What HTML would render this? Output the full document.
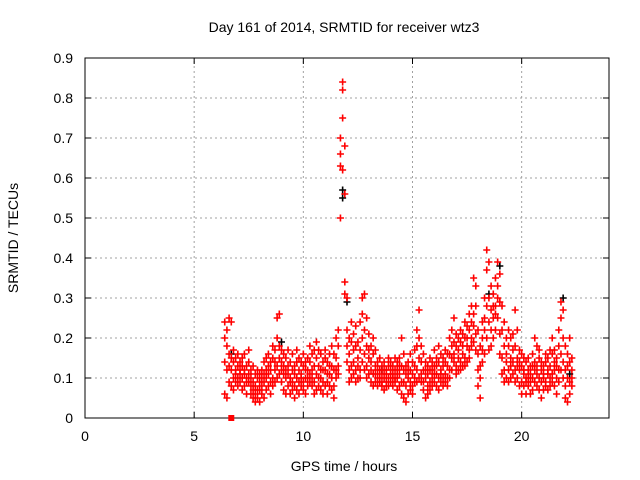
<!DOCTYPE html>
<html><head><meta charset="utf-8"><style>
body{margin:0;background:#fff}
svg{display:block;font-family:"Liberation Sans",Arial,sans-serif}
</style></head><body>
<svg id="chart" width="640" height="480" viewBox="0 0 640 480" xmlns="http://www.w3.org/2000/svg">
<rect width="640" height="480" fill="#fff"/>
<text x="344" y="32" font-size="14" text-anchor="middle">Day 161 of 2014, SRMTID for receiver wtz3</text>
<text x="344" y="471" font-size="14" text-anchor="middle">GPS time / hours</text>
<text transform="translate(18,238) rotate(-90)" font-size="14" text-anchor="middle">SRMTID / TECUs</text>
<g id="grid"></g><g id="axes"></g><g id="black"></g><g id="red"></g>
</svg>
<script>
const xTicks=[0,5,10,15,20];
const yTicks=[0,0.1,0.2,0.3,0.4,0.5,0.6,0.7,0.8,0.9];
const times=[6.4,6.5,6.6,6.7,6.8,6.9,7.0,7.1,7.2,7.3,7.4,7.5,7.6,7.7,7.8,7.9,8.0,8.1,8.2,8.3,8.4,8.5,8.6,8.7,8.8,8.9,9.0,9.1,9.2,9.3,9.4,9.5,9.6,9.7,9.8,9.9,10.0,10.1,10.2,10.3,10.4,10.5,10.6,10.7,10.8,10.9,11.0,11.1,11.2,11.3,11.4,11.5,11.6,11.7,11.8,11.9,12.0,12.1,12.2,12.3,12.4,12.5,12.6,12.7,12.8,12.9,13.0,13.1,13.2,13.3,13.4,13.5,13.6,13.7,13.8,13.9,14.0,14.1,14.2,14.3,14.4,14.5,14.6,14.7,14.8,14.9,15.0,15.1,15.2,15.3,15.4,15.5,15.6,15.7,15.8,15.9,16.0,16.1,16.2,16.3,16.4,16.5,16.6,16.7,16.8,16.9,17.0,17.1,17.2,17.3,17.4,17.5,17.6,17.7,17.8,17.9,18.0,18.1,18.2,18.3,18.4,18.5,18.6,18.7,18.8,18.9,19.0,19.1,19.2,19.3,19.4,19.5,19.6,19.7,19.8,19.9,20.0,20.1,20.2,20.3,20.4,20.5,20.6,20.7,20.8,20.9,21.0,21.1,21.2,21.3,21.4,21.5,21.6,21.7,21.8,21.9,22.0,22.1,22.2,22.3];
const redVals=[[20,24,6,14],[18,22,5,12],[25,16,9,13],[24,8,12,15],[14,10,7,17],[12,9,15,11],[13,8,10,16],[11,14,9,12],[15,10,7,13],[12,16,8,11],[10,13,6,9],[14,9,11,17],[8,12,6,10],[9,7,13,5],[11,6,8,4],[7,10,5,12],[9,4,11,7],[12,8,6,10],[14,9,5,11],[10,15,7,12],[13,8,16,11],[9,14,6,12],[15,10,18,8],[12,17,9,14],[20,25,13,10],[26,18,11,15],[14,9,17,12],[11,7,13,16],[10,15,6,12],[13,8,17,11],[9,14,6,10],[12,7,16,9],[8,13,5,11],[14,10,7,17],[9,12,6,15],[11,8,14,10],[13,7,16,9],[10,14,6,12],[8,12,15,10],[14,9,18,11],[12,16,8,10],[9,13,6,17],[11,15,7,19],[13,8,17,10],[10,16,7,12],[14,9,12,6],[12,17,8,15],[9,14,6,11],[16,11,8,13],[13,18,7,10],[8,12,5,16],[15,20,10,12],[18,13,22,11],[50,63,66,70],[84,82,75,62],[68,56,31,34],[22,30,14,18],[16,12,20,9],[19,13,24,10],[14,21,11,17],[18,12,23,9],[13,19,10,15],[17,24,12,10],[26,20,14,30],[31,22,16,12],[18,25,13,10],[15,21,11,17],[12,18,9,14],[16,11,20,8],[13,9,17,11],[10,14,8,12],[12,9,15,10],[11,8,13,9],[10,14,7,12],[9,12,8,11],[13,10,15,8],[11,9,14,12],[10,13,8,11],[12,9,15,10],[14,10,7,12],[11,15,8,13],[20,9,13,6],[12,5,16,9],[8,4,13,11],[10,6,14,12],[7,12,16,9],[11,8,14,6],[13,9,17,10],[18,12,22,9],[27,20,15,10],[14,9,18,11],[12,7,16,9],[10,14,5,12],[8,13,11,6],[12,9,15,7],[10,14,8,12],[13,9,17,11],[11,15,8,13],[14,10,18,7],[12,16,9,11],[15,10,13,8],[11,14,9,17],[13,8,16,10],[16,12,20,10],[22,15,18,12],[25,19,14,16],[18,13,21,11],[15,20,12,17],[19,14,22,12],[16,21,13,18],[20,15,24,13],[18,23,14,20],[22,17,26,15],[28,20,18,24],[35,26,19,23],[33,21,17,28],[22,16,8,12],[18,13,5,10],[24,17,14,20],[30,22,16,25],[42,37,28,20],[39,30,24,17],[27,22,33,18],[31,25,20,28],[35,28,22,26],[39,33,25,30],[36,29,21,16],[28,22,15,11],[24,18,12,9],[20,14,10,16],[18,12,22,9],[15,10,20,13],[21,14,11,17],[27,18,12,9],[22,15,10,13],[17,12,8,14],[13,9,16,6],[11,15,8,12],[14,10,6,9],[12,8,15,10],[9,13,6,11],[16,10,7,13],[20,14,9,12],[18,13,8,11],[15,10,17,7],[12,9,14,5],[10,13,7,11],[14,9,16,8],[11,15,7,12],[13,8,17,10],[16,11,20,9],[12,17,8,14],[15,10,13,6],[18,12,22,9],[25,29,16,12],[27,20,14,10],[18,12,8,5],[16,10,4,13],[20,14,9,6],[12,8,15,10]];
const blackTimes=[6.7,9.0,11.8,11.8,12.0,13.6,18.5,19.0,21.9,22.2];
const blackVals=[0.16,0.19,0.57,0.55,0.29,0.12,0.31,0.38,0.30,0.11];
const markerTime=[6.7];
const markerVal=[0];
const NS="http://www.w3.org/2000/svg";
const X0=85,X1=609,Y0=418,Y1=58;
function sx(t){return X0+(t-0)/(24-0)*(X1-X0);}
function sy(v){return Y0-(v-0)/(0.9-0)*(Y0-Y1);}
function mk(tag,at,parent){const e=document.createElementNS(NS,tag);for(const k in at)e.setAttribute(k,at[k]);parent.appendChild(e);return e;}
const grid=document.getElementById('grid'),axes=document.getElementById('axes');
yTicks.forEach(v=>{
  const y=sy(v);
  if(v>0){const l=mk('line',{x1:X0,x2:X1,y1:y,y2:y,stroke:'#a0a0a0','stroke-dasharray':'2,3'},grid);
  
  }
  mk('line',{x1:X0,x2:X0+6,y1:y,y2:y,stroke:'#000'},axes);
  mk('line',{x1:X1,x2:X1-6,y1:y,y2:y,stroke:'#000'},axes);
  const t=mk('text',{x:X0-12,y:y+5,'font-size':14,'text-anchor':'end'},axes);t.textContent=String(v);
  
  
});
xTicks.forEach(v=>{
  const x=sx(v);
  if(v>0){const l=mk('line',{x1:x,x2:x,y1:Y0,y2:Y1,stroke:'#a0a0a0','stroke-dasharray':'2,3'},grid);
  
  }
  mk('line',{x1:x,x2:x,y1:Y0,y2:Y0-6,stroke:'#000'},axes);
  mk('line',{x1:x,x2:x,y1:Y1,y2:Y1+6,stroke:'#000'},axes);
  const t=mk('text',{x:x,y:Y0+23,'font-size':14,'text-anchor':'middle'},axes);t.textContent=String(v);
  
  
});
const frame=mk('rect',{x:X0,y:Y1,width:X1-X0,height:Y0-Y1,fill:'none',stroke:'#000'},axes);


function plus(g,x,y,c){mk('path',{d:`M${x-3.5},${y}h7M${x},${y-3.5}v7`,stroke:c,'stroke-width':1.6,fill:'none'},g);}
const bg=document.getElementById('black');


blackTimes.forEach((t,i)=>plus(bg,sx(t),sy(blackVals[i]),'#000'));
const rg=document.getElementById('red');


times.forEach((t,i)=>redVals[i].forEach(v=>plus(rg,sx(t),sy(v/100),'#f00')));
markerTime.forEach((t,i)=>{const r=mk('rect',{x:sx(t)-3,y:sy(markerVal[i])-3,width:6,height:6,fill:'#f00'},rg);

});
</script>
</body></html>
